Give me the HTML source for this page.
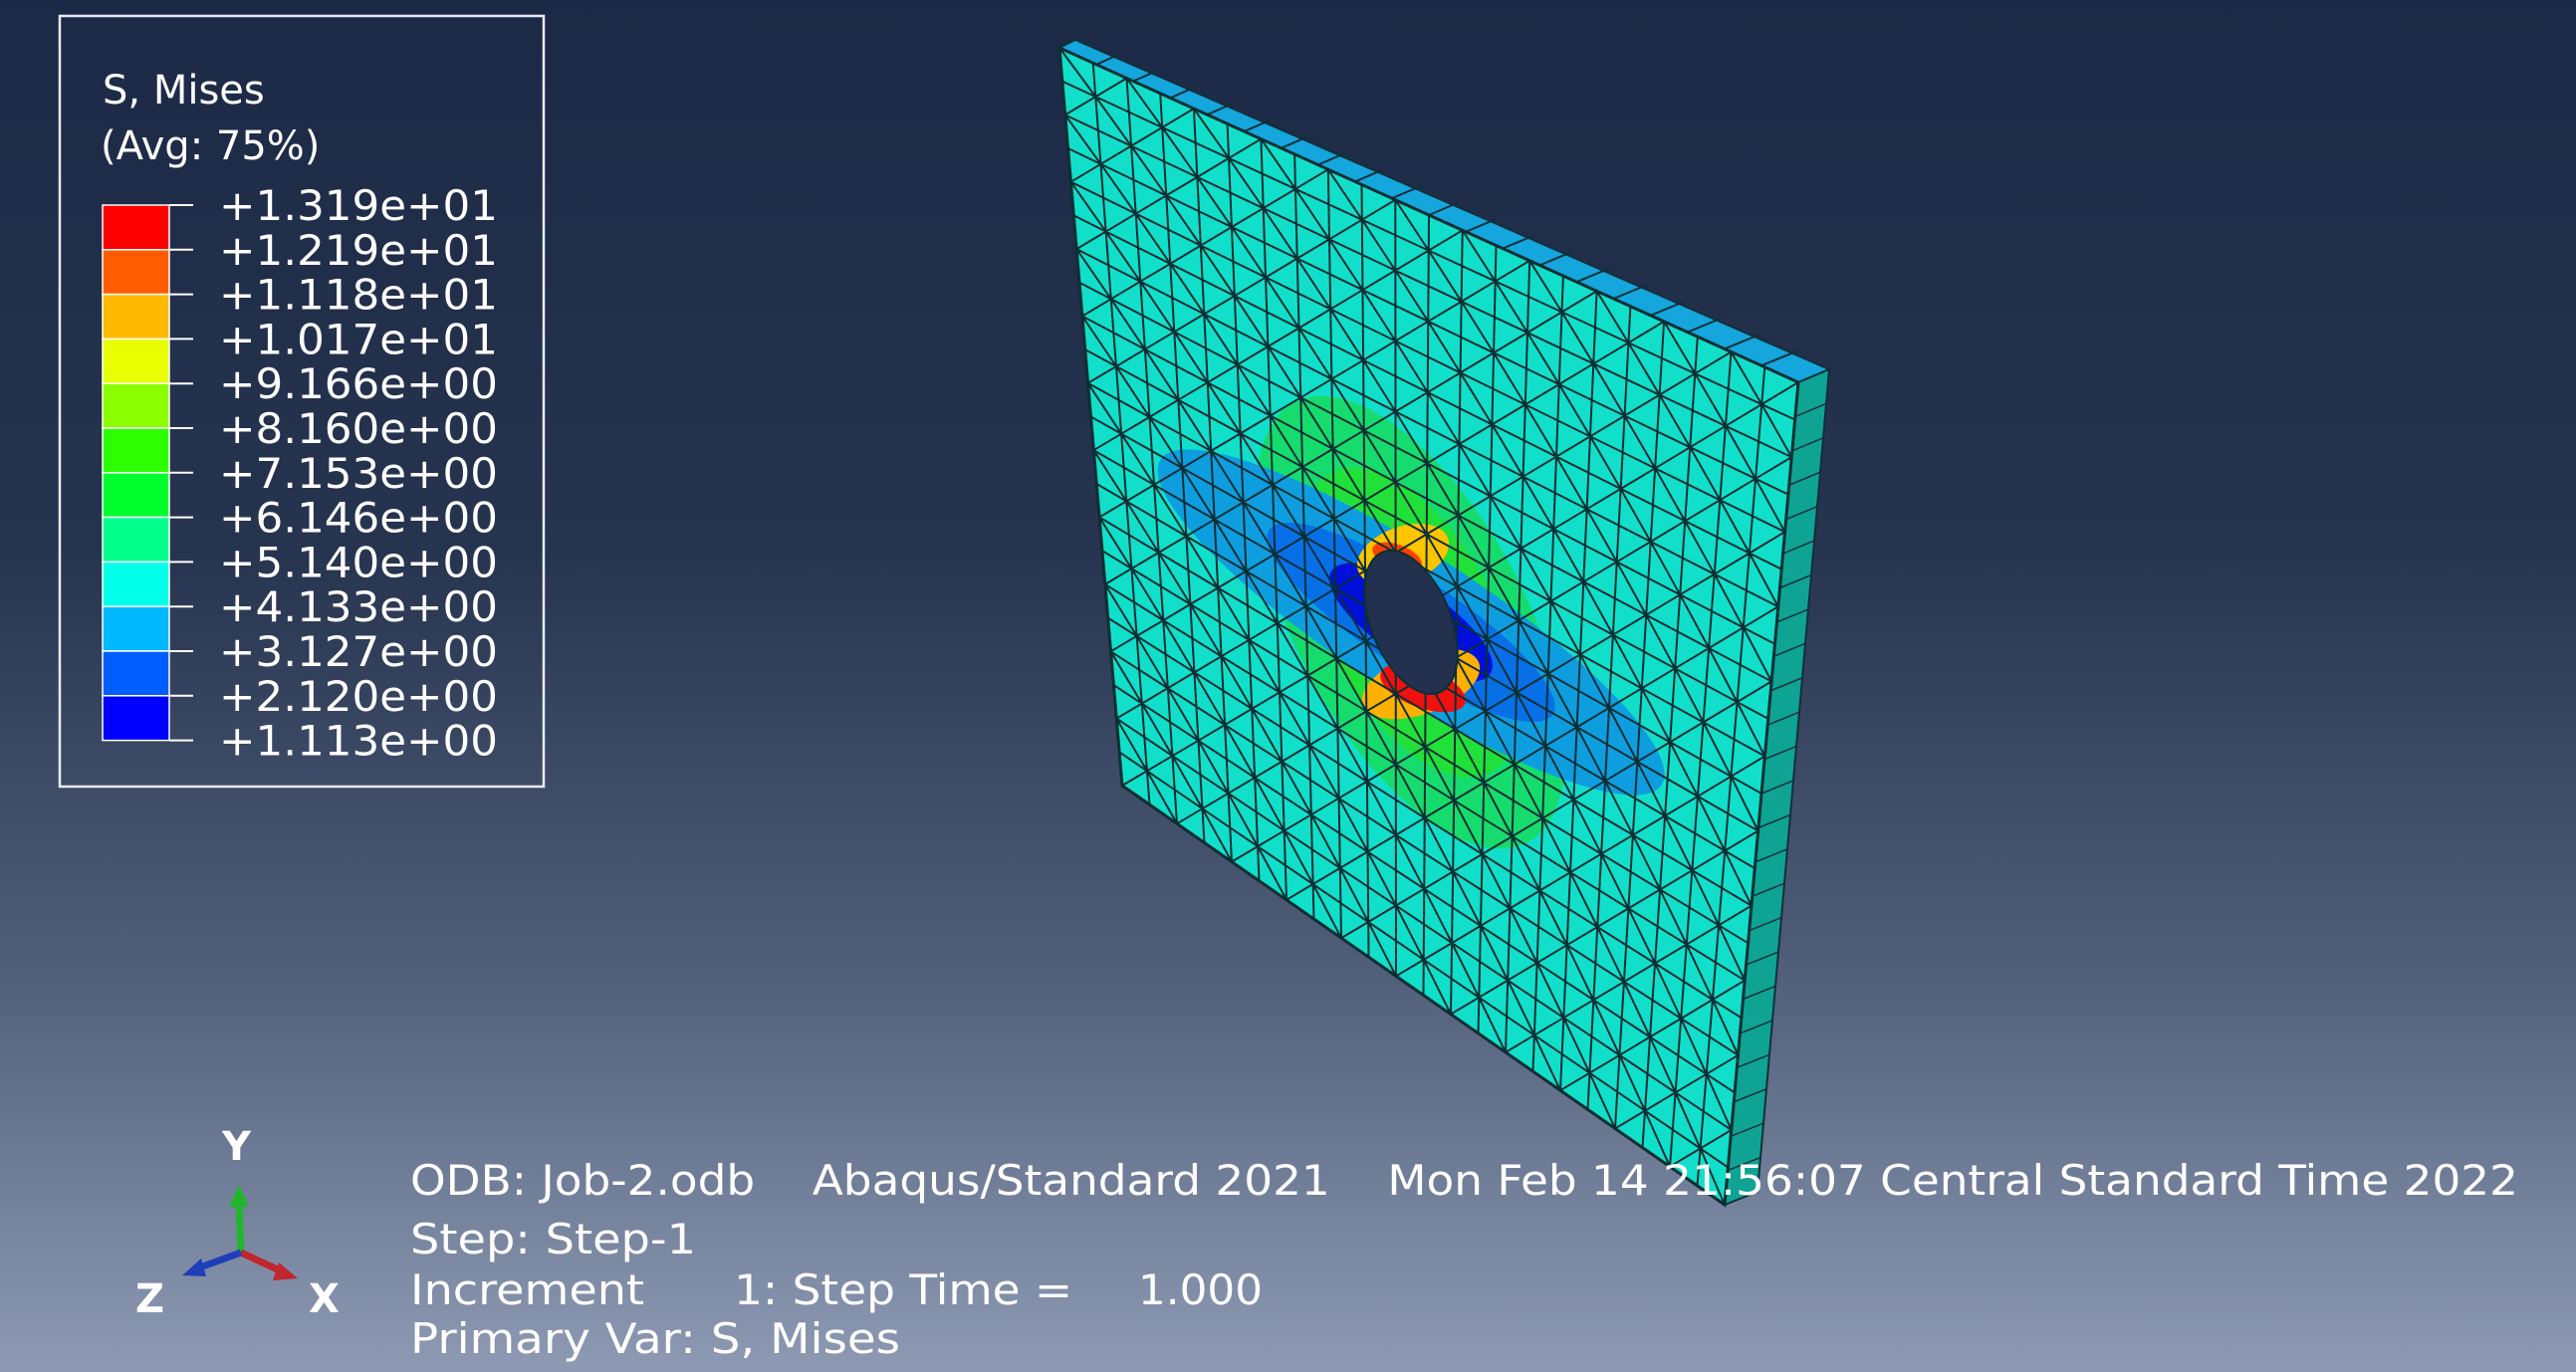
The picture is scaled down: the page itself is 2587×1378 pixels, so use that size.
<!DOCTYPE html>
<html><head><meta charset="utf-8">
<style>
html,body{margin:0;padding:0;width:2587px;height:1378px;overflow:hidden;}
svg{display:block;}
text{font-family:"DejaVu Sans","Liberation Sans",sans-serif;fill:#fff;}
</style></head>
<body>
<svg id="root" width="2587" height="1378" viewBox="0 0 2587 1378">
<defs>
<linearGradient id="bg" x1="0" y1="0" x2="0" y2="1">
<stop offset="0" stop-color="#1c2946"/>
<stop offset="0.4" stop-color="#26344f"/>
<stop offset="0.7" stop-color="#4f5d79"/>
<stop offset="1" stop-color="#8e9ab3"/>
</linearGradient>
<clipPath id="faceClip"><polygon id="faceClipPoly" points=""/></clipPath>
</defs>
<rect width="2587" height="1378" fill="url(#bg)"/>

<g>
<rect x="60" y="16" width="486" height="774" fill="none" stroke="#e8ecf4" stroke-width="2.5"/>
<text x="103" y="104" font-size="40">S, Mises</text>
<text x="101" y="160" font-size="40">(Avg: 75%)</text>
<g id="cbar"></g>
</g>

<g id="plate"></g>

<g>
<text x="412" y="1200" font-size="42" textLength="2117" lengthAdjust="spacingAndGlyphs" xml:space="preserve">ODB: Job-2.odb    Abaqus/Standard 2021    Mon Feb 14 21:56:07 Central Standard Time 2022</text>
<text x="412" y="1259" font-size="42" textLength="287" lengthAdjust="spacingAndGlyphs">Step: Step-1</text>
<text x="412" y="1310" font-size="42" textLength="235" lengthAdjust="spacingAndGlyphs">Increment</text>
<text x="737" y="1310" font-size="42" textLength="340" lengthAdjust="spacingAndGlyphs">1: Step Time =</text>
<text x="1143" y="1310" font-size="42" textLength="125" lengthAdjust="spacingAndGlyphs">1.000</text>
<text x="412" y="1359" font-size="42" textLength="492" lengthAdjust="spacingAndGlyphs">Primary Var: S, Mises</text>
</g>

<g>
<line x1="242" y1="1258" x2="240" y2="1205" stroke="#1fb62a" stroke-width="7"/>
<polygon points="230,1212 250,1212 240,1190" fill="#1fb62a"/>
<line x1="242" y1="1258" x2="285" y2="1278" stroke="#c0262c" stroke-width="7"/>
<polygon points="280,1268 274,1286 299,1284" fill="#c0262c"/>
<line x1="242" y1="1258" x2="198" y2="1274" stroke="#1f3fb8" stroke-width="7"/>
<polygon points="202,1264 207,1282 183,1281" fill="#1f3fb8"/>
<text x="223" y="1165" font-size="40" font-weight="bold">Y</text>
<text x="310" y="1318" font-size="40" font-weight="bold">X</text>
<text x="136" y="1318" font-size="40" font-weight="bold">Z</text>
</g>
</svg>
<script>
var legendValues=["+1.319e+01","+1.219e+01","+1.118e+01","+1.017e+01","+9.166e+00","+8.160e+00","+7.153e+00","+6.146e+00","+5.140e+00","+4.133e+00","+3.127e+00","+2.120e+00","+1.113e+00"];
var bandColors=["#ff0000","#ff5d00","#ffb900","#e7ff00","#8bff00","#2eff00","#00ff2e","#00ff8b","#00ffe8","#00b9ff","#005dff","#0000ff"];
(function(){
var NS="http://www.w3.org/2000/svg";
function mk(tag,attrs,parent){var e=document.createElementNS(NS,tag);for(var k in attrs)e.setAttribute(k,attrs[k]);parent.appendChild(e);return e;}
var cbar=document.getElementById('cbar');
var top0=206,step=44.8;
function yTick(i){return top0+i*step;}
for(var i=0;i<bandColors.length;i++){
  var r=mk('rect',{x:103,y:yTick(i),width:67,height:step,fill:bandColors[i],stroke:'#ffffff','stroke-width':1.5},cbar);
  
  
}
for(var i=0;i<legendValues.length;i++){
  var l=mk('line',{x1:170,x2:194,y1:yTick(i),y2:yTick(i),stroke:'#fff','stroke-width':2},cbar);
  
  
  var t=mk('text',{x:220,y:yTick(i)+15,'font-size':42,textLength:280,lengthAdjust:'spacingAndGlyphs'},cbar);
  t.textContent=legendValues[i];
  
  
}
var P=document.getElementById('plate');
var TL=[1064,48],TR=[1806,384],BR=[1732,1210],BL=[1127,789];
var bTL=[1080,40],bTR=[1837,371],bBR=[1765,1197];
var topFace=mk('polygon',{points:[TL,bTL,bTR,TR].join(' '),fill:'#14a6dc',stroke:'#10303a','stroke-width':2},P);


for(var k=1;k<20;k++){var f=k/20;
  var a=[TL[0]+(TR[0]-TL[0])*f,TL[1]+(TR[1]-TL[1])*f],b=[bTL[0]+(bTR[0]-bTL[0])*f,bTL[1]+(bTR[1]-bTL[1])*f];
  var ln=mk('line',{x1:a[0],y1:a[1],x2:b[0]+6,y2:b[1]-2,stroke:'#10303a','stroke-width':2},P);
  
  }
var sideFace=mk('polygon',{points:[TR,bTR,bBR,BR].join(' '),fill:'#0ea393',stroke:'#10303a','stroke-width':2},P);


for(var k=1;k<24;k++){var f=k/24;
  var a=[TR[0]+(BR[0]-TR[0])*f,TR[1]+(BR[1]-TR[1])*f],b=[bTR[0]+(bBR[0]-bTR[0])*f,bTR[1]+(bBR[1]-bTR[1])*f];
  var ln=mk('line',{x1:a[0],y1:a[1],x2:b[0],y2:b[1],stroke:'#10303a','stroke-width':1.5},P);
  
  }
document.getElementById('faceClipPoly').setAttribute('points',[TL,TR,BR,BL].join(' '));
var face=mk('polygon',{points:[TL,TR,BR,BL].join(' '),fill:'#12dfca'},P);


var cg=mk('g',{'clip-path':'url(#faceClip)'},P);


var cx=1417,cy=625;
function ell(rx,ry,rot,fill,dx,dy,name){var ex=cx+dx,ey=cy+dy;var e=mk('ellipse',{cx:ex,cy:ey,rx:rx,ry:ry,fill:fill,transform:'rotate('+rot+' '+ex+' '+ey+')'},cg);return e;}
ell(115,250,-28,'#16dc6e',0,0,'contour-green-band');
ell(85,170,-28,'#22e03a',0,0,'contour-bright-green');
ell(300,70,33,'#0e9ee0',0,0,'contour-light-blue-band');
ell(170,45,33,'#0870e6',0,0,'contour-blue-band');
ell(95,35,33,'#0010d8',0,0,'contour-dark-blue');
ell(48,28,-20,'#ffc400',-8,-68,'contour-top-orange');
ell(62,30,-20,'#ffb000',10,62,'contour-bottom-orange');
ell(45,20,20,'#f01010',12,66,'contour-bottom-red');
ell(26,12,20,'#ff4000',-14,-66,'contour-top-red');
var mg=mk('g',{stroke:'#0b2f33','stroke-width':2,fill:'none'},P);


function bil(u,v){var x=TL[0]*(1-u)*(1-v)+TR[0]*u*(1-v)+BR[0]*u*v+BL[0]*(1-u)*v;var y=TL[1]*(1-u)*(1-v)+TR[1]*u*(1-v)+BR[1]*u*v+BL[1]*(1-u)*v;return x.toFixed(1)+','+y.toFixed(1);}
var N=22;
var d='';
for(var i=0;i<=N;i++){d+='M'+bil(i/N,0)+'L'+bil(i/N,1);d+='M'+bil(0,i/N)+'L'+bil(1,i/N);}
for(var i=0;i<N;i++)for(var j=0;j<N;j++){
  if((i+j)%2==0){d+='M'+bil(i/N,j/N)+'L'+bil((i+1)/N,(j+1)/N);}else{d+='M'+bil((i+1)/N,j/N)+'L'+bil(i/N,(j+1)/N);}
}
var mp=mk('path',{d:d},mg);


var outline=mk('polygon',{points:[TL,TR,BR,BL].join(' '),fill:'none',stroke:'#0b2f33','stroke-width':3},P);


var hole=mk('ellipse',{cx:cx,cy:cy,rx:40,ry:76,fill:'#23314f',stroke:'#0b2f33','stroke-width':2,transform:'rotate(-22 '+cx+' '+cy+')'},P);


})();
</script>
</body></html>
